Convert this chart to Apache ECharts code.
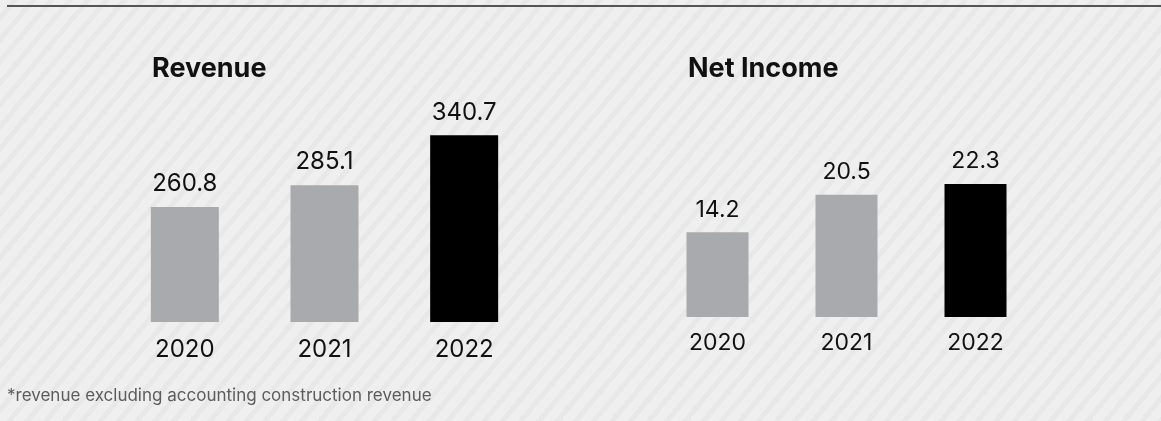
<!DOCTYPE html>
<html>
<head>
<meta charset="utf-8">
<script src="https://cdn.jsdelivr.net/npm/echarts@6/dist/echarts.min.js"></script>
<style>
  html, body { margin: 0; padding: 0; }
  body {
    width: 1161px; height: 421px; overflow: hidden;
    background: repeating-linear-gradient(130deg, #efefef 0px, #efefef 9px, #e8e8e8 9px, #e8e8e8 14px);
  }
  #chart { width: 1161px; height: 421px; }
</style>
</head>
<body>
<div id="chart"></div>
<script>
// Financial highlights, in millions
const years = ['2020', '2021', '2022'];
const revenue = [260.8, 285.1, 340.7];
const netIncome = [14.2, 20.5, 22.3];
const titles = ['Revenue', 'Net Income'];
const footnote = '*revenue excluding accounting construction revenue';

const FONT = 'Inter, "Noto Sans", sans-serif';
const GREY = '#a9aaad';
const HIGHLIGHT = '#000000';

const chart = echarts.init(document.getElementById('chart'), null, { renderer: 'canvas' });

function barColor(p) {
  return p.dataIndex === years.length - 1 ? HIGHLIGHT : GREY;
}

function categoryAxis(gridIndex, size, margin) {
  return {
    type: 'category', gridIndex, data: years,
    axisLine: { show: false }, axisTick: { show: false },
    axisLabel: { color: '#111', fontFamily: FONT, fontSize: size, margin }
  };
}

function valueAxis(gridIndex, min, max) {
  return {
    type: 'value', gridIndex, min, max, show: false,
    splitLine: { show: false }
  };
}

function barSeries(idx, data, width, size) {
  return {
    type: 'bar', xAxisIndex: idx, yAxisIndex: idx, data,
    barWidth: width,
    itemStyle: { color: barColor },
    label: {
      show: true, position: 'top', distance: 11,
      color: '#111', fontFamily: FONT, fontSize: size,
      formatter: p => p.value.toFixed(1)
    },
    silent: true
  };
}

chart.setOption({
  backgroundColor: 'transparent',
  animation: false,
  title: [
    { text: titles[0], left: 152, top: 55, padding: 0,
      textStyle: { fontFamily: FONT, fontWeight: 'bold', fontSize: 27, color: '#111' } },
    { text: titles[1], left: 688, top: 55, padding: 0,
      textStyle: { fontFamily: FONT, fontWeight: 'bold', fontSize: 27, color: '#111' } },
    { text: footnote, left: 7, top: 387, padding: 0,
      textStyle: { fontFamily: FONT, fontWeight: 'normal', fontSize: 17, color: '#5c5c5c' } }
  ],
  grid: [
    { left: 115, width: 419, top: 82, bottom: 99 },
    { left: 653, width: 387, top: 138, bottom: 104 }
  ],
  xAxis: [categoryAxis(0, 24, 16), categoryAxis(1, 23, 15)],
  yAxis: [valueAxis(0, 133, 400), valueAxis(1, 0, 30)],
  series: [
    barSeries(0, revenue, 68, 24),
    barSeries(1, netIncome, 62, 23)
  ],
  graphic: [
    { type: 'line', shape: { x1: 7, y1: 6, x2: 1161, y2: 6 },
      style: { stroke: '#555', lineWidth: 2 }, silent: true }
  ]
});
</script>
</body>
</html>
